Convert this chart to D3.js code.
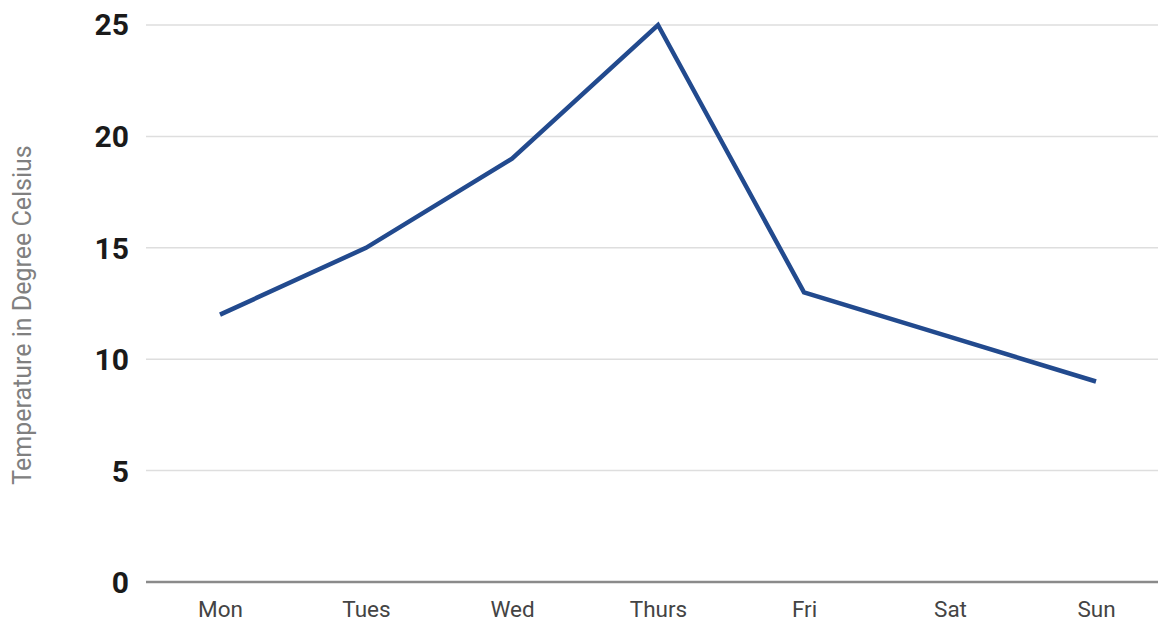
<!DOCTYPE html>
<html>
<head>
<meta charset="utf-8">
<script src="https://cdn.jsdelivr.net/npm/d3@7"></script>
<style>
  body { margin: 0; background: #fff; }
  svg { display: block; font-family: Roboto, "Noto Sans", sans-serif; }
</style>
</head>
<body>
<div class="chart-container"></div>
<script>
const width = 1159, height = 622;

// data
var days = ["Mon", "Tues", "Wed", "Thurs", "Fri", "Sat", "Sun"];
var temps = [12, 15, 19, 25, 13, 11, 9];
var yTicks = [0, 5, 10, 15, 20, 25];

var svg = d3.select(".chart-container")
    .append("svg")
    .attr("width", width)
    .attr("height", height);

var gridLeft = 146, gridRight = 1158;

var x = d3.scalePoint()
    .domain(days)
    .range([147, 1169])
    .padding(0.5);

var y = d3.scaleLinear()
    .domain([0, 25])
    .range([582, 25]);

// horizontal grid lines
svg.append("g")
    .selectAll("line")
    .data(yTicks.filter(d => d > 0))
    .enter()
    .append("line")
    .attr("x1", gridLeft)
    .attr("x2", gridRight)
    .attr("y1", d => y(d))
    .attr("y2", d => y(d))
    .attr("stroke", "#dedede")
    .attr("stroke-width", 1.5);

// baseline
svg.append("line")
    .attr("x1", gridLeft)
    .attr("x2", gridRight)
    .attr("y1", y(0))
    .attr("y2", y(0))
    .attr("stroke", "#8a8a8a")
    .attr("stroke-width", 2.5);

// y tick labels
var yAxis = d3.axisLeft(y).tickValues(yTicks).tickSize(0).tickPadding(0);
var yg = svg.append("g")
    .attr("transform", "translate(129,0)")
    .call(yAxis);
yg.select(".domain").remove();
yg.selectAll("text")
    .attr("font-family", "Roboto, sans-serif")
    .attr("font-size", 30)
    .attr("font-weight", "bold")
    .attr("fill", "#1a1a1a")
    .attr("dy", d => d == 25 ? "0.3em" : "0.35em");

// x tick labels
var xAxis = d3.axisBottom(x).tickSize(0).tickPadding(0);
var xg = svg.append("g")
    .attr("transform", "translate(0,617)")
    .call(xAxis);
xg.select(".domain").remove();
xg.selectAll("text")
    .attr("font-family", "Roboto, sans-serif")
    .attr("font-size", 22.5)
    .attr("fill", "#444")
    .attr("dy", "0");

// y axis title
svg.append("text")
    .attr("transform", "translate(31,315) rotate(-90)")
    .attr("text-anchor", "middle")
    .attr("font-family", "Roboto, sans-serif")
    .attr("font-size", 25)
    .attr("fill", "#808080")
    .text("Temperature in Degree Celsius");

// the line
var line = d3.line()
    .x((d, i) => x(days[i]))
    .y(d => y(d));

svg.append("path")
    .datum(temps)
    .attr("d", line)
    .attr("fill", "none")
    .attr("stroke", "#224a8e")
    .attr("stroke-width", 4.5)
    .attr("stroke-linejoin", "miter");
</script>
</body>
</html>
